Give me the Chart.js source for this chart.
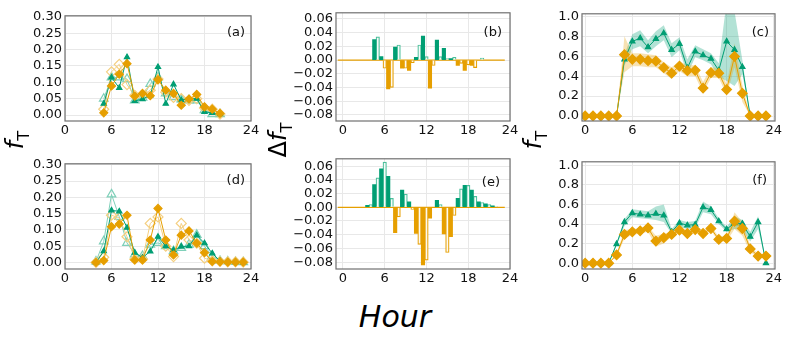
<!DOCTYPE html>
<html lang="en">
<head>
<meta charset="UTF-8" />
<title>f_T by hour</title>
<script src="https://cdn.jsdelivr.net/npm/chart.js"></script>
<style>
body {
  margin: 0;
  padding: 0;
  background: white;
  width: 789px;
  height: 339px;
  position: relative;
  overflow: hidden;
  font-family: 'DejaVu Sans', sans-serif;
}
.panel { position: absolute; }
.ylab {
  position: absolute;
  transform: translate(-50%, -50%) rotate(-90deg);
  font-size: 24px;
  white-space: nowrap;
  color: #000;
}
.ylab sub { font-size: 0.68em; font-style: normal; }
#hour {
  position: absolute;
  left: 395px;
  top: 316px;
  transform: translate(-50%, -50%);
  font-size: 30px;
  font-style: italic;
}
</style>
</head>
<body>

<div class="panel"><canvas id="pa"></canvas></div>
<div class="panel"><canvas id="pb"></canvas></div>
<div class="panel"><canvas id="pc"></canvas></div>
<div class="panel"><canvas id="pd"></canvas></div>
<div class="panel"><canvas id="pe"></canvas></div>
<div class="panel"><canvas id="pf"></canvas></div>

<div class="ylab" style="left:17px;top:140px"><i>f</i><sub>T</sub></div>
<div class="ylab" style="left:280px;top:140px">&Delta;<i>f</i><sub>T</sub></div>
<div class="ylab" style="left:535px;top:140px"><i>f</i><sub>T</sub></div>
<div id="hour">Hour</div>

<script>
// ---- data ----
const xTicks = [0, 6, 12, 18, 24];
const fracTicks = [0, 0.05, 0.1, 0.15, 0.2, 0.25, 0.3];
const diffTicks = [-0.08, -0.06, -0.04, -0.02, 0, 0.02, 0.04, 0.06];
const shareTicks = [0, 0.2, 0.4, 0.6, 0.8, 1.0];

const allHours = [0,1,2,3,4,5,6,7,8,9,10,11,12,13,14,15,16,17,18,19,20,21,22,23];

// (a)
const aHours = [5,6,7,8,9,10,11,12,13,14,15,16,17,18,19,20];
const aGreenFilled = [0.035,0.115,0.083,0.177,0.043,0.049,0.06,0.147,0.035,0.094,0.046,0.05,0.05,0.01,0.007,0.003];
const aGreenOpen   = [0.05,0.115,0.115,0.11,0.045,0.053,0.095,0.115,0.066,0.055,0.048,0.045,0.045,0.015,0.003,0.003];
const aOrangeFilled= [0.007,0.089,0.125,0.157,0.058,0.066,0.059,0.108,0.076,0.066,0.03,0.049,0.063,0.025,0.018,0.005];
const aOrangeOpen  = [0.018,0.132,0.155,0.093,0.06,0.06,0.076,0.11,0.07,0.054,0.05,0.045,0.05,0.022,0.018,0.003];

// (d)
const dHours = [4,5,6,7,8,9,10,11,12,13,14,15,16,17,18,19,20,21,22,23];
const dGreenFilled = [0,0.035,0.16,0.157,0.107,0.03,0.015,0.034,0.079,0.05,0.038,0.049,0.05,0.084,0.059,0.028,0.005,0.002,0.001,0];
const dGreenOpen   = [0.003,0.065,0.209,0.14,0.06,0.025,0.02,0.055,0.06,0.05,0.035,0.045,0.055,0.085,0.05,0.02,0.005,0.003,0.002,0.001];
const dOrangeFilled= [0,0.006,0.11,0.118,0.145,0.008,0.008,0.069,0.166,0.069,0.023,0.084,0.097,0.059,0.03,0.003,0.002,0.001,0.001,0.001];
const dOrangeOpen  = [0,0.016,0.145,0.137,0.079,0.01,0.01,0.12,0.14,0.05,0.018,0.12,0.069,0.059,0.013,0.005,0.003,0.002,0.002,0.001];

// (b) differences, filled bar sits half an hour left of the open one
const bFilled = [0,0,0,0,0,0.030,0.005,-0.042,0.019,-0.012,-0.015,0.004,0.035,-0.041,0.029,0.017,0.002,-0.008,-0.015,-0.008,0,0,0,0];
const bOpen   = [0,0,0,0,0,0.034,-0.012,-0.040,0.022,-0.012,-0.004,0.022,0.005,-0.008,0.005,0.002,0.004,-0.005,-0.007,-0.011,0.003,0,0,0];

// (e)
const eFilled = [0,0,0,0,0.003,0.033,0.056,0.045,-0.037,0.025,0.008,-0.038,-0.084,-0.016,0.010,-0.039,-0.043,0.013,0.032,0.025,0.008,0.005,0.002,0];
const eOpen   = [0,0,0,0,0.004,0.043,0.066,0.013,-0.014,0.019,-0.003,-0.054,-0.077,0,0.004,-0.066,-0.012,0.027,0.032,0.016,0.007,0.004,0.001,0];

// (c)
const cGreen    = [0,0,0,0,0,0.568,0.748,0.781,0.691,0.774,0.83,0.664,0.724,0.482,0.648,0.61,0.575,0.458,0.748,0.664,0.492,0,0,0];
const cGreenLo  = [0,0,0,0,0,0.51,0.67,0.70,0.63,0.70,0.76,0.59,0.66,0.42,0.59,0.56,0.52,0.39,0.35,0.30,0.42,0,0,0];
const cGreenHi  = [0,0,0,0,0,0.62,0.82,0.86,0.76,0.85,0.91,0.73,0.79,0.57,0.71,0.67,0.63,0.53,1.15,1.05,0.56,0,0,0];
const cOrange   = [0,0,0,0,0,0.615,0.568,0.568,0.555,0.55,0.485,0.43,0.50,0.455,0.458,0.28,0.435,0.43,0.265,0.598,0.228,0,0,0];
const cOrangeLo = [0,0,0,0,0,0.44,0.50,0.50,0.49,0.49,0.43,0.37,0.45,0.40,0.40,0.23,0.38,0.38,0.21,0.49,0.14,0,0,0];
const cOrangeHi = [0,0,0,0,0,0.80,0.63,0.63,0.62,0.61,0.54,0.49,0.55,0.51,0.51,0.34,0.49,0.48,0.32,0.73,0.31,0,0,0];

// (f)
const fGreen    = [0,0,0,0,0.195,0.42,0.512,0.498,0.488,0.505,0.488,0.32,0.41,0.387,0.394,0.572,0.545,0.428,0.347,0.41,0.404,0.27,0.42,0];
const fGreenLo  = [0,0,0,0,0.18,0.38,0.47,0.46,0.45,0.44,0.42,0.30,0.37,0.35,0.36,0.52,0.50,0.40,0.32,0.35,0.34,0.22,0.35,0];
const fGreenHi  = [0,0,0,0,0.21,0.45,0.55,0.54,0.53,0.58,0.60,0.35,0.44,0.42,0.43,0.63,0.58,0.46,0.37,0.48,0.44,0.32,0.48,0];
const fOrange   = [0,0,0,0,0.084,0.293,0.32,0.33,0.36,0.226,0.26,0.293,0.337,0.303,0.343,0.303,0.354,0.242,0.253,0.428,0.354,0.145,0.072,0.072];
const fOrangeLo = [0,0,0,0,0.07,0.25,0.29,0.30,0.32,0.17,0.20,0.27,0.31,0.28,0.32,0.28,0.33,0.22,0.22,0.35,0.28,0.11,0.06,0.06];
const fOrangeHi = [0,0,0,0,0.10,0.34,0.35,0.36,0.38,0.28,0.30,0.32,0.36,0.33,0.37,0.33,0.38,0.27,0.28,0.52,0.42,0.18,0.09,0.09];

// ---- colours ----
const GREEN = '#009E73';
const GREEN_LIGHT = '#7fd0b9';
const GREEN_OPEN_BAR = '#4cbf9b';
const ORANGE = '#E69F00';
const ORANGE_LIGHT = '#f4cf80';
const GREEN_BAND = 'rgba(0,158,115,0.3)';
const ORANGE_BAND = 'rgba(230,159,0,0.3)';

Chart.defaults.font.family = "'DejaVu Sans', sans-serif";
Chart.defaults.font.size = 13;
Chart.defaults.color = '#111';

const Y_W = 50, X_H = 22, PAD_T = 10, PAD_R = 14;

function pts(hours, vals, shift) {
  return hours.map((h, i) => ({ x: h + (shift || 0), y: vals[i] }));
}

// frame + panel letter
const boxPlugin = {
  id: 'box',
  afterDraw(chart, args, opts) {
    const ctx = chart.ctx;
    const a = chart.chartArea;
    ctx.save();
    ctx.strokeStyle = '#707070';
    ctx.lineWidth = 1.2;
    ctx.strokeRect(a.left, a.top, a.right - a.left, a.bottom - a.top);
    ctx.font = "13px 'DejaVu Sans'";
    ctx.fillStyle = '#111';
    ctx.textAlign = 'right';
    ctx.textBaseline = 'middle';
    ctx.fillText(opts.label, a.right - opts.dx, a.top + opts.dy);
    ctx.restore();
  }
};

function axes(xmin, xmax, ymin, ymax, yTicks, fmt) {
  return {
    x: {
      type: 'linear', min: xmin, max: xmax, offset: false,
      grid: { color: '#e8e8e8', drawTicks: false, offset: false },
      border: { display: false },
      ticks: { padding: 2, autoSkip: false, maxRotation: 0 },
      afterBuildTicks: s => { s.ticks = xTicks.map(v => ({ value: v })); },
      afterFit: s => { s.height = X_H; }
    },
    y: {
      min: ymin, max: ymax,
      grid: { color: '#e8e8e8', drawTicks: false },
      border: { display: false },
      ticks: { padding: 3, autoSkip: false, callback: fmt },
      afterBuildTicks: s => { s.ticks = yTicks.map(v => ({ value: v })); },
      afterFit: s => { s.width = Y_W; }
    }
  };
}

function makePanel(id, plot, type, datasets, scales, label) {
  const canvas = document.getElementById(id);
  const w = plot.R - plot.L + Y_W + PAD_R;
  const h = plot.B - plot.T + PAD_T + X_H;
  const holder = canvas.parentNode;
  holder.style.left = (plot.L - Y_W) + 'px';
  holder.style.top = (plot.T - PAD_T) + 'px';
  canvas.width = w;
  canvas.height = h;
  return new Chart(canvas.getContext('2d'), {
    type: type,
    data: { datasets: datasets },
    options: {
      responsive: false,
      animation: false,
      devicePixelRatio: 1,
      layout: { padding: { top: PAD_T, right: PAD_R, left: 0, bottom: 0 } },
      plugins: { legend: { display: false }, tooltip: { enabled: false }, box: label },
      scales: scales
    },
    plugins: [boxPlugin]
  });
}

const fmt2 = v => (v < 0 ? '\u2212' : '') + Math.abs(v).toFixed(2);
const fmt1 = v => v.toFixed(1);

function markerLine(data, color, style, radius, filled, width) {
  return {
    type: 'line', data: data, borderColor: color, borderWidth: width || 1,
    pointStyle: style, pointRadius: radius, pointBorderColor: color, pointBorderWidth: 1.2,
    pointBackgroundColor: filled ? color : 'rgba(255,255,255,0)', tension: 0
  };
}

function fracSets(hours, gF, gO, oF, oO) {
  return [
    markerLine(pts(hours, oF), ORANGE, 'rectRot', 4, true),
    markerLine(pts(hours, gF), GREEN, 'triangle', 3, true),
    markerLine(pts(hours, oO), ORANGE_LIGHT, 'rectRot', 5, false),
    markerLine(pts(hours, gO), GREEN_LIGHT, 'triangle', 5, false)
  ];
}

function diffSets(filled, open) {
  const fPts = pts(allHours, filled, -0.5).filter(p => p.y !== 0);
  const oPts = pts(allHours, open, 0).filter(p => p.y !== 0);
  return [
    { type: 'bar', data: fPts, grouped: false, barPercentage: 1, categoryPercentage: 1,
      backgroundColor: c => c.raw.y < 0 ? ORANGE : GREEN, borderWidth: 0 },
    { type: 'bar', data: oPts, grouped: false, barPercentage: 1, categoryPercentage: 1,
      backgroundColor: 'rgba(255,255,255,0.9)', borderWidth: 1.2,
      borderColor: c => c.raw.y < 0 ? ORANGE : GREEN_OPEN_BAR },
    { type: 'line', borderColor: ORANGE, borderWidth: 1.3, pointRadius: 0,
      data: [{ x: allHours[0] - 0.75, y: 0 }, { x: allHours[allHours.length - 1] + 0.25, y: 0 }] }
  ];
}

function bandSets(g, gLo, gHi, o, oLo, oHi) {
  const band = (vals, color, fill) => ({
    type: 'line', data: pts(allHours, vals), borderWidth: 0, pointRadius: 0,
    backgroundColor: color, fill: fill, clip: 0, tension: 0
  });
  return [
    markerLine(pts(allHours, o), ORANGE, 'rectRot', 4.8, true),
    markerLine(pts(allHours, g), GREEN, 'triangle', 3, true),
    band(oHi, ORANGE_BAND, '+1'),
    band(oLo, 'rgba(0,0,0,0)', false),
    band(gHi, GREEN_BAND, '+1'),
    band(gLo, 'rgba(0,0,0,0)', false)
  ];
}

makePanel('pa', { L: 65, R: 251, T: 15, B: 121 }, 'line',
  fracSets(aHours, aGreenFilled, aGreenOpen, aOrangeFilled, aOrangeOpen),
  axes(0, 24, -0.018, 0.303, fracTicks, fmt2), { label: '(a)', dx: 6, dy: 17 });

makePanel('pd', { L: 65, R: 251, T: 163, B: 269 }, 'line',
  fracSets(dHours, dGreenFilled, dGreenOpen, dOrangeFilled, dOrangeOpen),
  axes(0, 24, -0.02, 0.303, fracTicks, fmt2), { label: '(d)', dx: 6, dy: 17 });

makePanel('pb', { L: 336, R: 510, T: 12, B: 121 }, 'bar',
  diffSets(bFilled, bOpen),
  axes(-1, 24, -0.089, 0.069, diffTicks, fmt2), { label: '(b)', dx: 8, dy: 20 });

makePanel('pe', { L: 336, R: 510, T: 158, B: 269 }, 'bar',
  diffSets(eFilled, eOpen),
  axes(-1, 24, -0.09, 0.0707, diffTicks, fmt2), { label: '(e)', dx: 10, dy: 24 });

makePanel('pc', { L: 582, R: 775, T: 13, B: 121 }, 'line',
  bandSets(cGreen, cGreenLo, cGreenHi, cOrange, cOrangeLo, cOrangeHi),
  axes(-0.4, 24.15, -0.05, 1.025, shareTicks, fmt1), { label: '(c)', dx: 6, dy: 19 });

makePanel('pf', { L: 582, R: 775, T: 161, B: 269 }, 'line',
  bandSets(fGreen, fGreenLo, fGreenHi, fOrange, fOrangeLo, fOrangeHi),
  axes(-0.4, 24.15, -0.06, 1.036, shareTicks, fmt1), { label: '(f)', dx: 8, dy: 19 });
</script>
</body>
</html>
